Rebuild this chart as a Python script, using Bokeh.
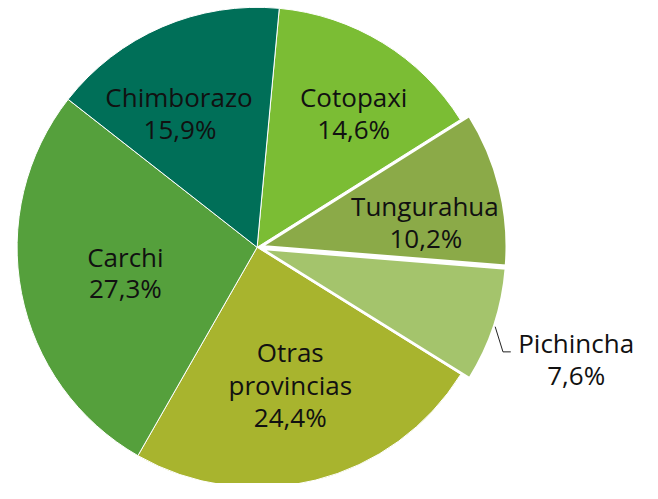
import math
from bokeh.plotting import figure
from bokeh.models import Range1d
from bokeh.embed import file_html
from bokeh.resources import INLINE
from bokeh.core.properties import value

# ---- data ----
provinces = ["Cotopaxi", "Tungurahua", "Pichincha", "Otras provincias", "Carchi", "Chimborazo"]
shares = [14.6, 10.2, 7.6, 24.4, 27.3, 15.9]
pct_labels = ["14,6%", "10,2%", "7,6%", "24,4%", "27,3%", "15,9%"]
exploded = [False, True, True, False, False, False]

# ---- style / layout ----
colors = ["#7bbd34", "#8baa48", "#a4c46c", "#a8b42e", "#55a03c", "#006f58"]
W, H = 642, 483          # figure size in pixels
RW, RH = 658, 499        # reference canvas units used for layout
FONT = "Open Sans"
FS = "26px"
TXT = "#111111"

def px(sx):
    return sx

def py(sy):
    return RH - sy

cx, cy = px(263), py(255)
R = 246
R_EXP = 251
EXP_OFF = 5
START = 90 - 5.3  # degrees, going clockwise

# label line positions (reference coords) per province
label_lines = {
    "Cotopaxi": [("Cotopaxi", 362, 100), ("14,6%", 362, 133)],
    "Tungurahua": [("Tungurahua", 435, 212), ("10,2%", 436, 245)],
    "Pichincha": [("Pichincha", 590, 354), ("7,6%", 590, 387)],
    "Otras provincias": [("Otras", 297, 363), ("provincias", 297, 397), ("24,4%", 297, 430)],
    "Carchi": [("Carchi", 128, 265), ("27,3%", 128, 297)],
    "Chimborazo": [("Chimborazo", 183, 100), ("15,9%", 184, 133)],
}

p = figure(width=W, height=H, output_backend="svg", toolbar_location=None,
           x_range=Range1d(0, RW), y_range=Range1d(0, RH), min_border=0)
p.axis.visible = False
p.grid.visible = False
p.outline_line_color = None
p.background_fill_color = "white"
p.border_fill_color = "white"

cum = 0.0
wedges = []
for name, s, exp, col in zip(provinces, shares, exploded, colors):
    a0 = math.radians(START - cum * 3.6)
    cum += s
    a1 = math.radians(START - cum * 3.6)
    wedges.append((name, a0, a1, exp, col))

for name, a0, a1, exp, col in wedges:
    if exp:
        continue
    p.wedge(x=cx, y=cy, radius=R, start_angle=a0, end_angle=a1,
            direction="clock", fill_color=col, line_color="white", line_width=1)
for name, a0, a1, exp, col in wedges:
    if not exp:
        continue
    mid = (a0 + a1) / 2
    ex = cx + EXP_OFF * math.cos(mid)
    ey = cy + EXP_OFF * math.sin(mid)
    p.wedge(x=ex, y=ey, radius=R_EXP, start_angle=a0, end_angle=a1,
            direction="clock", fill_color=col, line_color="white", line_width=2.5)

p.line(x=[px(507), px(515), px(523)], y=[py(337), py(363), py(363)],
       line_color="#222222", line_width=1)

for name in provinces:
    for t, sx, sy in label_lines[name]:
        p.text(x=[px(sx)], y=[py(sy)], text=[t], text_align="center", text_baseline="middle",
               text_font=value(FONT), text_font_size=FS, text_color=TXT)

open("out.html", "w").write(file_html(p, INLINE))
